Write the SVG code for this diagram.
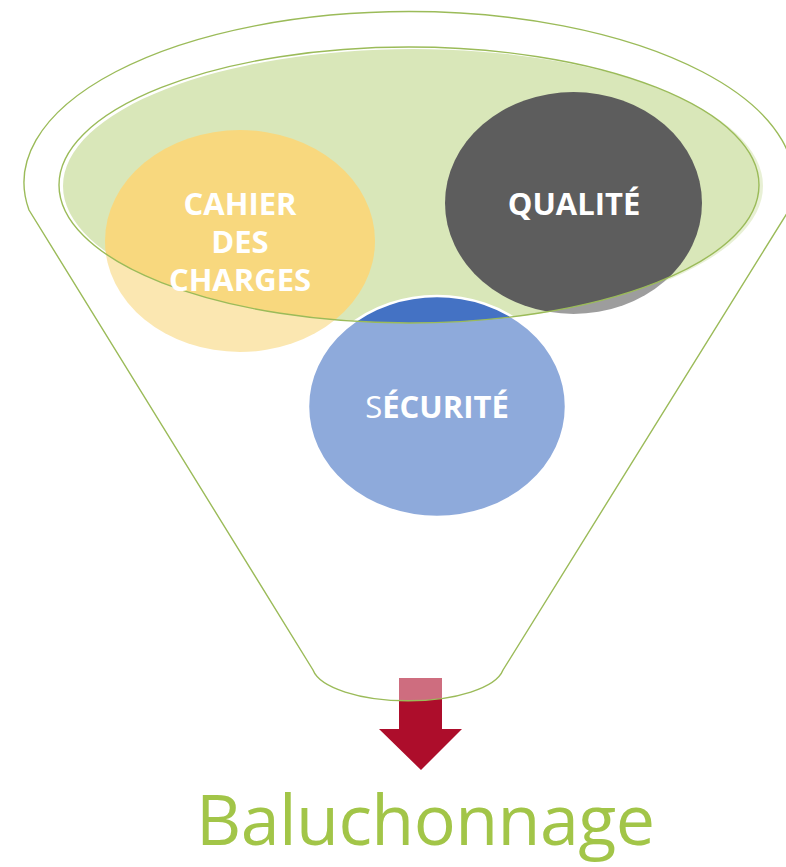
<svg xmlns="http://www.w3.org/2000/svg" width="786" height="867" viewBox="0 0 786 867">
  <style>
    .lbl { font-family: "Open Sans", "Noto Sans", "DejaVu Sans", sans-serif; font-weight: bold; font-size: 31px; fill: #ffffff; text-anchor: middle; }
    .outline { fill: none; stroke: #9BBB59; stroke-width: 1.4; }
    .title { font-family: "Open Sans", "Noto Sans", "DejaVu Sans", sans-serif; font-size: 70px; fill: #A2C548; text-anchor: middle; }
  </style>
  <rect width="786" height="867" fill="#ffffff"/>
  <g id="funnel-opening">
    <ellipse cx="413" cy="186" rx="350" ry="137" fill="#D9E7B9"/>
  </g>
  <g id="node-cahier">
    <ellipse cx="240" cy="241" rx="135" ry="111" fill="#F8D87E"/>
  </g>
  <g id="node-qualite">
    <ellipse cx="573.5" cy="203" rx="128.5" ry="111" fill="#5D5D5D"/>
  </g>
  <g id="node-securite">
    <ellipse cx="437" cy="406.5" rx="129" ry="110.5" fill="#4472C4" stroke="#ffffff" stroke-width="2.5"/>
  </g>
  <g id="connectors">
    <polygon points="399,678 442,678 442,729 462,729 421,770 379,729 399,729" fill="#AD0D2B"/>
  </g>
  <g id="funnel-body">
    <path d="M29,210 A385,171 0 1 1 789,210 L503,670 A96,36 0 0 1 313,670 Z M59,185 A350,138 0 1 0 759,185 A350,138 0 1 0 59,185 Z" fill="#ffffff" fill-opacity="0.4" fill-rule="evenodd"/>
    <path class="outline" d="M29,210 A385,171 0 1 1 789,210 L503,670 A96,36 0 0 1 313,670 Z"/>
    <ellipse class="outline" cx="409" cy="185" rx="350" ry="138"/>
  </g>
  <g id="labels">
    <text class="lbl" x="240" y="215">CAHIER</text>
    <text class="lbl" x="240" y="253">DES</text>
    <text class="lbl" x="240" y="291">CHARGES</text>
    <text class="lbl" x="574" y="215">QUALITÉ</text>
    <text class="lbl" x="437" y="418"><tspan font-weight="normal">S</tspan>ÉCURITÉ</text>
  </g>
  <g id="output">
    <text class="title" x="425.5" y="845" textLength="459" lengthAdjust="spacing">Baluchonnage</text>
  </g>
</svg>
